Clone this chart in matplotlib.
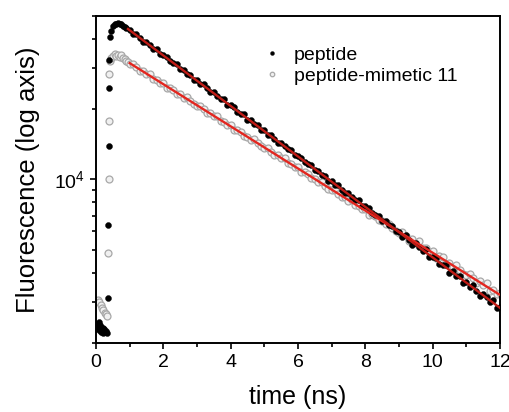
import matplotlib
matplotlib.use('Agg')
import matplotlib.pyplot as plt
from matplotlib.ticker import LogLocator, NullFormatter, MultipleLocator

plt.rcParams.update({
    'font.family': ['Liberation Sans', 'DejaVu Sans'],
    'axes.linewidth': 1.4,
    'xtick.labelsize': 14, 'ytick.labelsize': 14,
    'axes.labelsize': 18,
})

# peptide decay (black dots), time in ns, counts
t_pep = [0.03, 0.06, 0.08, 0.10, 0.12, 0.14, 0.16, 0.18, 0.20, 0.22, 0.25, 0.28, 0.30, 0.33,
         0.36, 0.37, 0.38, 0.39, 0.40, 0.41,
         0.45, 0.50, 0.55, 0.60, 0.65, 0.70, 0.75, 0.80, 0.85, 0.90,
         1.0, 1.1, 1.2, 1.3, 1.4, 1.5, 1.6, 1.7, 1.8, 1.9,
         2.0, 2.1, 2.2, 2.3, 2.4, 2.5, 2.6, 2.7, 2.8, 2.9,
         3.0, 3.1, 3.2, 3.3, 3.4, 3.5, 3.6, 3.7, 3.8, 3.9,
         4.0, 4.1, 4.2, 4.3, 4.4, 4.5, 4.6, 4.7, 4.8, 4.9,
         5.0, 5.1, 5.2, 5.3, 5.4, 5.5, 5.6, 5.7, 5.8, 5.9,
         6.0, 6.1, 6.2, 6.3, 6.4, 6.5, 6.6, 6.7, 6.8, 6.9,
         7.0, 7.1, 7.2, 7.3, 7.4, 7.5, 7.6, 7.7, 7.8, 7.9,
         8.0, 8.1, 8.2, 8.3, 8.4, 8.5, 8.6, 8.7, 8.8, 8.9,
         9.0, 9.1, 9.2, 9.3, 9.4, 9.5, 9.6, 9.7, 9.8, 9.9,
         10.0, 10.1, 10.2, 10.3, 10.4, 10.5, 10.6, 10.7, 10.8, 10.9,
         11.0, 11.1, 11.2, 11.3, 11.4, 11.5, 11.6, 11.7, 11.8, 11.9, 12.0]
y_pep = [2420, 2330, 2460, 2280, 2380, 2220, 2350, 2260, 2310, 2200, 2290, 2230, 2260, 2200,
         3120, 6410, 13900, 24500, 32500, 40600,
         43000, 45200, 46100, 46400, 46500, 46300, 46000, 45500, 45000, 44400,
         43770, 41970, 41980, 40260, 38760, 38770, 37550, 36300, 36300, 34360,
         34070, 33460, 32000, 31440, 31180, 29550, 29430, 28370, 28090, 26670,
         26620, 25530, 25530, 24490, 23580, 23580, 22850, 22080, 22080, 20910,
         20720, 20350, 19460, 19120, 18970, 17970, 17900, 17250, 17090, 16220,
         16200, 15530, 15530, 14900, 14340, 14350, 13900, 13440, 13430, 12720,
         12600, 12370, 11830, 11630, 11540, 10930, 10890, 10500, 10390, 9870,
         9850, 9450, 9445, 9060, 8720, 8720, 8450, 8170, 8170, 7740,
         7670, 7530, 7200, 7070, 7010, 6650, 6620, 6380, 6320, 6000,
         5990, 5690, 5810, 5500, 5230, 5340, 5150, 4940, 5040, 4660,
         4680, 4620, 4350, 4290, 4320, 4000, 4050, 3870, 3870, 3600,
         3660, 3460, 3530, 3340, 3180, 3250, 3130, 3000, 3065, 2830, 2845]

# peptide-mimetic 11 decay (grey open circles)
t_mim = [0.05, 0.10, 0.14, 0.18, 0.22, 0.26, 0.30, 0.34,
         0.37, 0.38, 0.39, 0.40, 0.41,
         0.45, 0.50, 0.55, 0.60, 0.65, 0.70, 0.75, 0.80, 0.85, 0.90, 0.95,
         1.0, 1.1, 1.2, 1.3, 1.4, 1.5, 1.6, 1.7, 1.8, 1.9,
         2.0, 2.1, 2.2, 2.3, 2.4, 2.5, 2.6, 2.7, 2.8, 2.9,
         3.0, 3.1, 3.2, 3.3, 3.4, 3.5, 3.6, 3.7, 3.8, 3.9,
         4.0, 4.1, 4.2, 4.3, 4.4, 4.5, 4.6, 4.7, 4.8, 4.9,
         5.0, 5.1, 5.2, 5.3, 5.4, 5.5, 5.6, 5.7, 5.8, 5.9,
         6.0, 6.1, 6.2, 6.3, 6.4, 6.5, 6.6, 6.7, 6.8, 6.9,
         7.0, 7.1, 7.2, 7.3, 7.4, 7.5, 7.6, 7.7, 7.8, 7.9,
         8.0, 8.1, 8.2, 8.3, 8.4, 8.5, 8.6, 8.7, 8.8, 8.9,
         9.0, 9.1, 9.2, 9.3, 9.4, 9.5, 9.6, 9.7, 9.8, 9.9,
         10.0, 10.1, 10.2, 10.3, 10.4, 10.5, 10.6, 10.7, 10.8, 10.9,
         11.0, 11.1, 11.2, 11.3, 11.4, 11.5, 11.6, 11.7, 11.8, 11.9, 12.0]
y_mim = [3050, 2980, 2900, 2820, 2760, 2700, 2650, 2620,
         4860, 10000, 17750, 28200, 32000,
         33000, 33800, 34300, 33600, 34200, 33500, 33900, 33000, 32700, 32100, 31700,
         31190, 31200, 30190, 29100, 29170, 28230, 28230, 26920, 26710, 25930,
         25860, 24580, 24630, 24230, 23210, 23090, 22400, 22450, 21610, 20970,
         20600, 20600, 19940, 19220, 19260, 18650, 18650, 17780, 17640, 17130,
         17080, 16230, 16270, 16000, 15330, 15250, 14800, 14830, 14270, 13850,
         13610, 13610, 13170, 12700, 12720, 12320, 12320, 11740, 11650, 11310,
         11280, 10720, 10740, 10560, 10130, 10070, 9770, 9790, 9420, 9150,
         8990, 8990, 8700, 8380, 8410, 8130, 8140, 7760, 7700, 7470,
         7450, 7080, 7100, 6980, 6690, 6650, 6450, 6470, 6220, 6040,
         5930, 5990, 5750, 5470, 5580, 5350, 5440, 5080, 5090, 4910,
         4970, 4610, 4710, 4640, 4370, 4400, 4230, 4330, 4100, 3950,
         3900, 3960, 3800, 3610, 3690, 3540, 3600, 3350, 3360, 3240, 3280]

# single-exponential fits (red lines), endpoints
t_fit_pep = [0.95, 12.0]
y_fit_pep = [44000, 2825]
t_fit_mim = [1.0, 12.0]
y_fit_mim = [31440, 3210]

fig = plt.figure(figsize=(5.09, 4.12), dpi=100)
ax = fig.add_axes([0.1886, 0.1675, 0.7937, 0.7937])

ax.plot(t_mim, y_mim, linestyle='none', marker='o', markersize=5.0,
        markerfacecolor='#f0f0f0', markeredgecolor='#a8a8a8', markeredgewidth=0.9,
        label='peptide-mimetic 11', zorder=2)
ax.plot(t_pep, y_pep, linestyle='none', marker='o', markersize=4.3,
        markerfacecolor='black', markeredgecolor='black', markeredgewidth=0.3,
        label='peptide', zorder=3)
ax.plot(t_fit_mim, y_fit_mim, color='#e3261f', linewidth=1.7, zorder=4)
ax.plot(t_fit_pep, y_fit_pep, color='#c01c16', linewidth=1.7, zorder=5)

ax.set_yscale('log')
ax.set_xlim(0, 12)
ax.set_ylim(2000, 50000)
ax.xaxis.set_major_locator(MultipleLocator(2))
ax.xaxis.set_minor_locator(MultipleLocator(1))
ax.yaxis.set_major_locator(LogLocator(base=10, subs=(1.0,)))
ax.yaxis.set_minor_locator(LogLocator(base=10, subs=range(2, 10)))
ax.yaxis.set_minor_formatter(NullFormatter())
ax.tick_params(which='major', direction='out', length=4.5, width=1.2)
ax.tick_params(which='minor', direction='out', length=3, width=1.2)

ax.set_xlabel('time (ns)', labelpad=10)
ax.set_ylabel('Fluorescence (log axis)', fontsize=18.5, labelpad=10)

h, l = ax.get_legend_handles_labels()
leg = ax.legend(h[::-1], l[::-1], loc='upper left', bbox_to_anchor=(0.398, 0.93),
                frameon=False, fontsize=14, handlelength=0.8, handletextpad=0.7,
                labelspacing=0.15, borderaxespad=0, markerscale=0.65)

fig.savefig('out.png', dpi=100)
plt.close(fig)
